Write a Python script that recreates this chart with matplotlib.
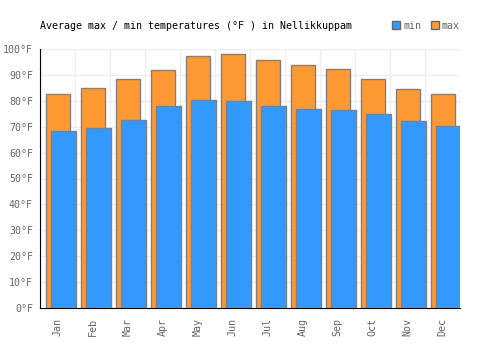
import numpy as np
import matplotlib
matplotlib.use("Agg")
import matplotlib.pyplot as plt
from matplotlib.patches import Patch

months = ["Jan", "Feb", "Mar", "Apr", "May", "Jun", "Jul", "Aug", "Sep", "Oct", "Nov", "Dec"]
tmax = [82.5, 84.8, 88.3, 91.8, 97.3, 97.9, 95.6, 93.7, 92.2, 88.3, 84.4, 82.5]
tmin = [68.2, 69.4, 72.5, 77.9, 80.2, 79.8, 77.9, 76.7, 76.3, 74.8, 72.1, 70.2]
yticks = list(range(0, 101, 10))

plt.rcParams['font.family'] = ['DejaVu Sans Mono']
fs = 7.2
fig = plt.figure(figsize=(5, 3.5), dpi=100)
ax = fig.add_axes([0.08, 0.12, 0.84, 0.74])

x = np.arange(len(months))
ax.bar(x + 0.51, tmax, width=0.68, color="#FF9933", edgecolor="#808080", linewidth=1, zorder=3)
ax.bar(x + 0.665, tmin, width=0.70, color="#3399FF", edgecolor="#808080", linewidth=1, zorder=4)

ax.set_xlim(0, 12)
ax.set_ylim(0, 100)
ax.set_yticks(yticks)
ax.set_yticklabels([f"{v}°F" for v in yticks], color="#666666", fontsize=fs)
ax.set_xticks(x + 0.5)
ax.set_xticklabels(months, rotation=90, color="#666666", fontsize=fs)
ax.set_xticks(np.arange(13), minor=True)
ax.tick_params(axis="both", which="both", length=0)
ax.tick_params(axis="y", pad=5)
ax.tick_params(axis="x", pad=7)
ax.grid(True, which="minor", axis="x", color="#eeeeee", linewidth=1, zorder=0)
ax.grid(True, which="major", axis="y", color="#eeeeee", linewidth=1, zorder=0)
for s in ["top", "right"]:
    ax.spines[s].set_visible(False)
ax.spines["left"].set_color("black")
ax.spines["bottom"].set_color("black")

fig.text(0.08, 0.927, "Average max / min temperatures (°F ) in Nellikkuppam", fontsize=fs, va="center", ha="left")

handles = [Patch(facecolor="#3399FF", edgecolor="#666666"), Patch(facecolor="#FF9933", edgecolor="#666666")]
leg = fig.legend(handles, ["min", "max"], loc="center left", bbox_to_anchor=(0.774, 0.927), ncol=2,
                 frameon=False, fontsize=fs, handlelength=0.8, handleheight=0.8,
                 handletextpad=0.3, columnspacing=1.0, borderpad=0)
for t in leg.get_texts():
    t.set_color("#666666")

fig.savefig("out.png", dpi=100)
